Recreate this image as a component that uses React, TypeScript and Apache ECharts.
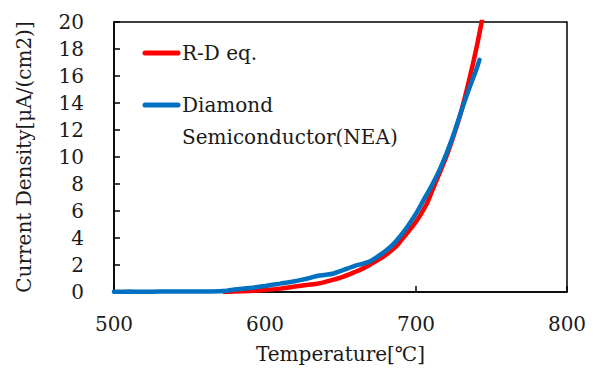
import React, { useEffect, useRef } from "react";
import * as echarts from "echarts";

const xTicks = [500, 600, 700, 800];
const yTicks = [0, 2, 4, 6, 8, 10, 12, 14, 16, 18, 20];

const rdTemp = [572, 580, 590, 600, 610, 620, 630, 636, 640, 650, 660, 665, 670, 680, 687, 690, 700, 707, 710, 720, 725, 730, 735, 740, 744, 746];
const rdJ = [0, 0.03, 0.08, 0.15, 0.25, 0.4, 0.55, 0.64, 0.75, 1.06, 1.5, 1.75, 2.05, 2.75, 3.4, 3.8, 5.2, 6.5, 7.3, 10.0, 11.6, 13.4, 15.6, 18.05, 20.3, 21.5];

const nTemp = [500, 510, 520, 530, 540, 550, 560, 570, 575, 580, 590, 600, 610, 620, 630, 635, 640, 645, 650, 655, 660, 665, 670, 675, 680, 685, 690, 695, 700, 705, 710, 715, 720, 725, 730, 735, 740, 742];
const nJ = [0.02, 0.03, 0.02, 0.03, 0.03, 0.03, 0.04, 0.06, 0.1, 0.18, 0.3, 0.45, 0.62, 0.8, 1.05, 1.2, 1.27, 1.35, 1.55, 1.75, 1.95, 2.1, 2.3, 2.65, 3.05, 3.55, 4.2, 4.95, 5.8, 6.8, 7.8, 8.9, 10.2, 11.7, 13.4, 15.0, 16.5, 17.2];

const seriesNames = ["R-D eq.", "Diamond", "Semiconductor(NEA)"];
const xName = "Temperature[℃]";
const yName = "Current Density[μA/(cm2)]";

const FONT = "'DejaVu Serif', 'Liberation Serif', serif";
const RED = "#FF0000";
const BLUE = "#0070C0";

export default function App() {
  const ref = useRef<HTMLDivElement>(null);
  useEffect(() => {
    if (!ref.current) return;
    const chart = echarts.init(ref.current, null, { renderer: "svg" });
    const txt = { fontFamily: FONT, fontSize: 20, color: "#1a1a1a" };
    chart.setOption({
      animation: false,
      backgroundColor: "#ffffff",
      grid: {
        left: 114,
        right: 26,
        top: 22,
        bottom: 78,
        show: true,
        borderColor: "#000",
        borderWidth: 1.5,
      },
      xAxis: {
        type: "value",
        min: 500,
        max: 800,
        interval: 100,
        name: xName,
        nameLocation: "middle",
        nameGap: 52,
        nameTextStyle: { ...txt },
        axisLine: { show: true, lineStyle: { color: "#000", width: 1.5 } },
        axisTick: { show: true, inside: true, length: 6, lineStyle: { color: "#000", width: 1.5 } },
        axisLabel: { ...txt, margin: 22, formatter: (v: number) => (xTicks.includes(v) ? String(v) : "") },
        splitLine: { show: false },
      },
      yAxis: {
        type: "value",
        min: 0,
        max: 20,
        interval: 2,
        name: yName,
        nameLocation: "middle",
        nameGap: 80,
        nameTextStyle: { ...txt },
        axisLine: { show: true, lineStyle: { color: "#000", width: 1.5 } },
        axisTick: { show: true, inside: true, length: 6, lineStyle: { color: "#000", width: 1.5 } },
        axisLabel: { ...txt, margin: 30, formatter: (v: number) => (yTicks.includes(v) ? String(v) : "") },
        splitLine: { show: false },
      },
      series: [
        {
          name: seriesNames[0],
          type: "line",
          data: rdTemp.map((t, i) => [t, rdJ[i]]),
          showSymbol: false,
          smooth: 0.3,
          clip: true,
          lineStyle: { color: RED, width: 4.5 },
          z: 2,
        },
        {
          name: seriesNames[1] + " " + seriesNames[2],
          type: "line",
          data: nTemp.map((t, i) => [t, nJ[i]]),
          showSymbol: false,
          smooth: 0.3,
          clip: true,
          lineStyle: { color: BLUE, width: 4.5, cap: "round" },
          z: 3,
        },
      ],
      graphic: [
        { type: "line", shape: { x1: 145, y1: 53, x2: 178, y2: 53 }, style: { stroke: RED, lineWidth: 5, lineCap: "round" } },
        { type: "text", x: 182, y: 53, style: { text: seriesNames[0], fontFamily: FONT, fontSize: 20, fill: "#1a1a1a", verticalAlign: "middle" } },
        { type: "line", shape: { x1: 145, y1: 105, x2: 178, y2: 105 }, style: { stroke: BLUE, lineWidth: 5, lineCap: "round" } },
        { type: "text", x: 182, y: 105, style: { text: seriesNames[1], fontFamily: FONT, fontSize: 20, fill: "#1a1a1a", verticalAlign: "middle" } },
        { type: "text", x: 182, y: 137, style: { text: seriesNames[2], fontFamily: FONT, fontSize: 20, fill: "#1a1a1a", verticalAlign: "middle" } },
      ],
    });
    return () => chart.dispose();
  }, []);
  return <div ref={ref} style={{ position: "fixed", left: 0, top: 0, width: 593, height: 370 }} />;
}
